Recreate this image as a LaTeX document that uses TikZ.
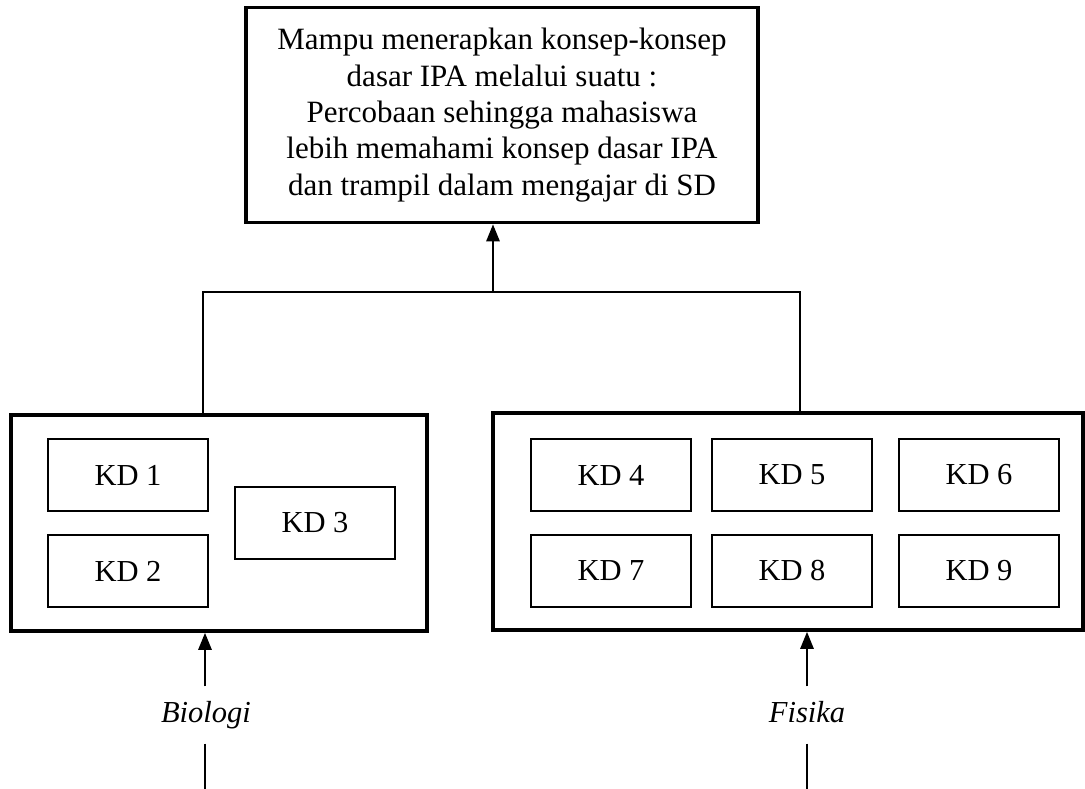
\documentclass[tikz,border=0pt]{standalone}
\usepackage{fontspec}
\setmainfont{Liberation Serif}
\usetikzlibrary{arrows.meta}

\begin{document}
\begin{tikzpicture}[x=1pt,y=-1pt,
  bigbox/.style={draw, line width=3.5pt, inner sep=0pt, align=center, font=\fontsize{31}{36.3}\selectfont},
  kdbox/.style={draw, line width=1.6pt, minimum width=160pt, minimum height=72pt, inner sep=0pt, font=\fontsize{30.5}{36}\selectfont},
  srclabel/.style={inner sep=0pt, minimum height=57pt, text height=21pt, text depth=7pt, font=\fontsize{30.5}{36}\selectfont\itshape},
  uparrow/.style={line width=2.6pt, -{Triangle[width=13pt,length=17pt]}},
  plainline/.style={line width=1.5pt}]
\useasboundingbox (0,0) rectangle (1085,789);

\node[bigbox, minimum width=512pt, minimum height=215pt] (goal) at (502,115)
{Mampu menerapkan konsep-konsep\\dasar IPA melalui suatu :\\Percobaan sehingga mahasiswa\\lebih memahami konsep dasar IPA\\dan trampil dalam mengajar di SD};

% biologi
\node[bigbox, minimum width=416pt, minimum height=216pt] (bio) at (219,523) {};
\node[kdbox] (kd1) at (128,475) {KD 1};
\node[kdbox] (kd2) at (128,571) {KD 2};
\node[kdbox] (kd3) at (315,523) {KD 3};

% fisika
\node[bigbox, minimum width=590pt, minimum height=217pt] (fis) at (788,521.5) {};
\node[kdbox] (kd4) at (611,475) {KD 4};
\node[kdbox] (kd5) at (792,475) {KD 5};
\node[kdbox] (kd6) at (979,475) {KD 6};
\node[kdbox] (kd7) at (611,571) {KD 7};
\node[kdbox] (kd8) at (792,571) {KD 8};
\node[kdbox] (kd9) at (979,571) {KD 9};

\node[srclabel] (biolbl) at (206,715) {Biologi};
\node[srclabel] (fislbl) at (807,715) {Fisika};

\coordinate (join) at (493,292);
\coordinate (joinl) at (203,292);
\coordinate (joinr) at (800,292);
\coordinate (bioend) at (205,789);
\coordinate (fisend) at (807,789);

\draw[uparrow] (join) -- (join |- goal.south);
\draw[plainline] (joinl |- bio.north) -- (joinl) -- (joinr) -- (joinr |- fis.north);

\draw[uparrow] (bioend |- biolbl.north) -- (bioend |- bio.south);
\draw[uparrow] (fislbl.north) -- (fislbl.north |- fis.south);
\draw[plainline] (bioend |- biolbl.south) -- (bioend);
\draw[plainline] (fislbl.south) -- (fisend);
\end{tikzpicture}
\end{document}
